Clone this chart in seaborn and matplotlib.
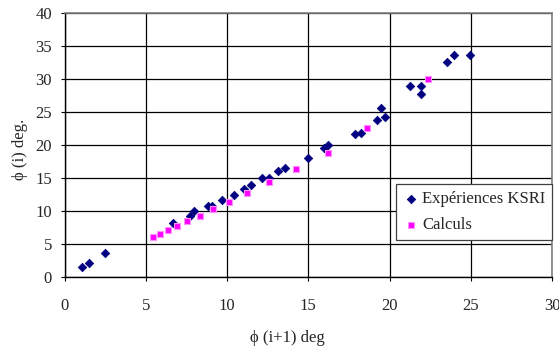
import matplotlib
matplotlib.use("Agg")
import matplotlib.pyplot as plt
import seaborn as sns
import pandas as pd

# Experimental data (Expériences KSRI)
exp_x = [1.08, 1.53, 2.47, 6.65, 7.71, 7.98, 8.86, 9.07, 9.70, 10.44, 11.05, 11.48,
         12.16, 12.59, 13.14, 13.55, 15.00, 15.95, 16.24, 17.87, 18.24, 19.25, 19.47,
         19.70, 21.25, 21.95, 21.95, 23.53, 23.96, 24.97]
exp_y = [1.52, 2.03, 3.55, 8.10, 9.20, 10.00, 10.70, 10.70, 11.60, 12.45, 13.27, 14.00,
         15.00, 15.00, 16.05, 16.55, 18.10, 19.60, 19.95, 21.72, 21.78, 23.85, 25.57,
         24.20, 28.96, 28.96, 27.75, 32.56, 33.62, 33.62]

# Calculations (Calculs)
calc_x = [5.42, 5.89, 6.38, 6.93, 7.55, 8.31, 9.13, 10.11, 11.20, 12.57, 14.23, 16.24,
          18.63, 22.36]
calc_y = [5.98, 6.53, 7.09, 7.70, 8.41, 9.26, 10.28, 11.30, 12.66, 14.33, 16.40, 18.78,
          22.53, 30.02]

series_names = ["Expériences KSRI", "Calculs"]
x_ticks = [0, 5, 10, 15, 20, 25, 30]
y_ticks = [0, 5, 10, 15, 20, 25, 30, 35, 40]

sns.set_style("white")
plt.rcParams["font.family"] = ["Liberation Serif", "DejaVu Serif"]

df_exp = pd.DataFrame({"x": exp_x, "y": exp_y, "serie": series_names[0]})
df_calc = pd.DataFrame({"x": calc_x, "y": calc_y, "serie": series_names[1]})

FS = 12

fig = plt.figure(figsize=(5.59, 3.49), dpi=100)
ax = fig.add_axes([0.1154, 0.2072, 0.8721, 0.7547])

sns.scatterplot(data=df_exp, x="x", y="y", marker="D", s=19, color="#000080",
                edgecolor="#000080", linewidth=0.5, label=series_names[0], ax=ax, zorder=3)
sns.scatterplot(data=df_calc, x="x", y="y", marker="s", s=22, color="#FF00FF",
                edgecolor="#FF90FF", linewidth=0.8, label=series_names[1], ax=ax, zorder=3)

ax.set_xlim(0, 30)
ax.set_ylim(0, 40)
ax.set_xticks(x_ticks)
ax.set_yticks(y_ticks)
ax.set_xticklabels([str(t) for t in x_ticks])
ax.set_yticklabels([str(t) for t in y_ticks])
ax.grid(True, color="black", linewidth=0.9)
ax.set_axisbelow(True)

for s in ["left", "bottom"]:
    ax.spines[s].set_color("black")
    ax.spines[s].set_linewidth(1.0)
for s in ["top", "right"]:
    ax.spines[s].set_color("#808080")
    ax.spines[s].set_linewidth(1.2)

ax.tick_params(axis="x", direction="out", length=3, width=0.8, pad=12, labelsize=FS,
               color="black", bottom=True)
ax.tick_params(axis="y", direction="out", length=3, width=0.8, pad=6, labelsize=FS,
               color="black", left=True)
ax.set_xlabel("")
ax.set_ylabel("")

fig.text(287 / 559, 1 - 338 / 349, "ϕ (i+1) deg", ha="center", va="center", fontsize=FS)
fig.text(20 / 559, 1 - 149 / 349, "ϕ (i) deg.", ha="center", va="center", rotation=90,
         fontsize=FS)

leg = ax.legend(loc="upper left", bbox_to_anchor=(0.679, 0.351), fontsize=FS,
                frameon=True, fancybox=False, edgecolor="#404040", framealpha=1,
                handletextpad=0.1, handlelength=1.1, borderpad=0.4, labelspacing=0.6,
                borderaxespad=0)
leg.get_frame().set_linewidth(0.9)

fig.savefig("out.png", dpi=100)
